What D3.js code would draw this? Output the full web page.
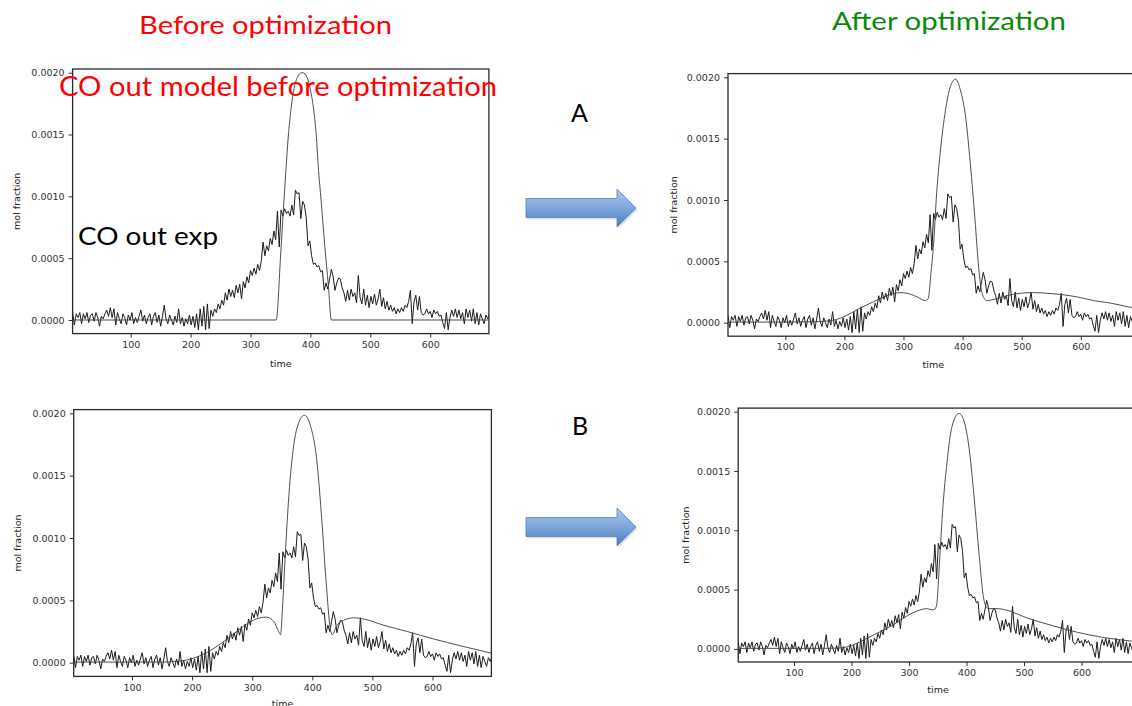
<!DOCTYPE html>
<html>
<head>
<meta charset="utf-8">
<script src="https://cdn.jsdelivr.net/npm/d3@7"></script>
<style>
  html, body { margin: 0; padding: 0; background: #fff; }
  svg { display: block; }
  .tick text { font-family: "DejaVu Sans", sans-serif; font-size: 9.5px; fill: #333; }
  .tick line { stroke: #333; }
</style>
</head>
<body>
<svg id="chart" width="1132" height="706"></svg>
<script>
// ---------- DATA (values in units of 1e-4 mol fraction) ----------
const expTimes = d3.range(3, 700, 3); // sampling times of the experiment
const expValues = [
  0.6, -0.4, 0.5, 0.2, 0.6, -0.3, 0.5, 0.1, 0.6, -0.2,
  0.4, 0.5, -0.1, 0.6, 0.2, -0.5, 0.3, 0.1, 0.5, 0.8,
  0.3, 1.0, 0.2, 0.9, -0.4, 0.6, 0.1, -0.3, 0.5, 0.2,
  -0.4, 0.4, 0.0, 0.6, -0.3, 0.2, -0.2, 0.3, 0.8, -0.1,
  0.4, -0.3, 0.2, 0.5, -0.4, 0.3, 0.6, -0.2, 0.4, -0.5,
  0.3, 1.2, 0.1, -0.3, 0.4, 0.0, -0.4, 0.3, -0.2, 0.9,
  -0.3, 0.2, -0.5, 0.1, -0.3, 0.4, -0.4, 0.3, -0.6, 0.5,
  -0.8, 0.9, -0.5, 1.1, -0.8, 1.3, -0.7, 0.8, 0.3, 0.9,
  0.6, 1.3, 0.9, 1.6, 1.2, 2.2, 1.6, 2.5, 1.9, 2.4,
  1.8, 2.8, 2.2, 2.9, 1.7, 3.1, 2.6, 3.5, 3.0, 4.0,
  3.6, 4.2, 3.7, 4.5, 4.0, 4.8, 6.3, 5.2, 6.0, 5.6,
  6.6, 6.1, 7.2, 6.5, 8.8, 5.9, 8.9, 8.4, 9.0, 8.6,
  8.8, 8.4, 9.3, 8.5, 10.5, 10.2, 10.3, 8.2, 9.6, 9.3,
  8.3, 6.0, 6.4, 5.2, 4.5, 4.6, 4.3, 4.4, 3.9, 4.0,
  2.4, 3.0, 2.5, 3.3, 4.1, 3.5, 2.4, 3.0, 3.4, 3.3,
  2.6, 2.2, 1.5, 2.4, 1.6, 2.5, 1.9, 2.2, 1.4, 3.6,
  1.8, 1.3, 2.5, 1.2, 2.0, 1.0, 1.9, 1.3, 2.1, 1.2,
  1.7, 2.5, 1.1, 1.8, 0.9, 1.5, 0.8, 1.2, 0.7, 1.0,
  0.5, 0.9, 0.6, 1.0, 0.7, 1.2, 1.0, 1.5, 2.4, -0.3,
  1.5, 2.0, 0.8, 1.9, 0.6, 0.4, 0.5, 0.9, 0.5, 0.7,
  0.2, 0.8, 0.5, 0.7, 0.3, 0.4, -0.2, -0.7, 0.6, -0.8,
  0.2, 0.8, 0.3, 0.9, 0.2, 0.8, 0.1, 0.6, -0.3, 0.9,
  0.2, 0.8, -0.1, 0.9, -0.3, 0.6, -0.4, 0.5, 0.1, -0.3,
  0.4, 0.1, 0.5
];

// model curves: [time, value(1e-4)]
const modelBeforeA = [[3,0],[343,0],[350,5],[355,9],[359,12],[363,14.8],[368,17.2],[373,18.8],[378,19.6],[383,19.95],[387,20],[391,19.9],[396,19.4],[401,18.4],[406,16.8],[410,14.8],[413,12.5],[418,9.6],[424,6.0],[430,2.8],[435,0],[698,0]];
const modelAfterA = [[3,0.05],[100,0.05],[150,0.08],[181,0.2],[204,0.6],[227,1.2],[249,1.7],[272,2.2],[294,2.45],[306,2.4],[323,2.1],[337,1.8],[342,2.0],[346,3.8],[351,6.5],[356,10.5],[362,13.8],[371,17.3],[379,19.2],[388,19.85],[396,19.0],[405,16.8],[413,13.0],[421,8.4],[427,4.6],[433,2.4],[441,1.8],[453,1.9],[475,2.2],[498,2.4],[520,2.45],[543,2.4],[566,2.3],[594,2.1],[622,1.8],[650,1.6],[684,1.25],[698,1.1]];
const modelBeforeB = [[3,0.05],[150,0.05],[180,0.13],[202,0.35],[224,0.8],[247,1.5],[269,2.3],[291,3.1],[313,3.6],[324,3.65],[336,3.3],[344,2.5],[347,2.25],[351,4.9],[355,8.6],[361,13.4],[369,17.4],[377,19.2],[387,19.85],[397,19.0],[408,16.0],[416,11.3],[423,6.5],[430,2.7],[433,2.25],[441,3.0],[452,3.4],[469,3.6],[486,3.5],[519,3.0],[558,2.5],[602,1.9],[647,1.35],[699,0.75]];
const modelAfterB = [[3,0.05],[150,0.05],[180,0.08],[203,0.35],[227,0.9],[250,1.45],[273,2.05],[297,2.8],[320,3.3],[331,3.4],[340,3.3],[345,3.35],[348,3.7],[353,7.3],[359,12],[366,15.7],[375,18.8],[387,19.85],[395,19.3],[404,17.1],[413,12.9],[422,7.9],[429,4.5],[435,3.5],[439,3.4],[453,3.4],[471,3.25],[506,2.6],[547,2.0],[593,1.4],[640,0.95],[689,0.65],[698,0.6]];

const xTicks = [100, 200, 300, 400, 500, 600];
const yTicks = [0, 0.0005, 0.0010, 0.0015, 0.0020];
const xDomain = [3, 698];
const yDomain = [-0.00011, 0.00203];
const UNIT = 1e-4;

// ---------- LAYOUT ----------
const panels = [
  { box: [72.6, 69.0, 488.9, 333.6], model: modelBeforeA, ylabX: 16, timeY: 363 },
  { box: [728.0, 73.6, 1138.7, 336.2], model: modelAfterA, ylabX: 673, timeY: 364 },
  { box: [73.7, 409.6, 491.4, 676.4], model: modelBeforeB, ylabX: 17, timeY: 703 },
  { box: [738.2, 408.1, 1137.9, 662.0], model: modelAfterB, ylabX: 685, timeY: 689 }
];

const svg = d3.select("#chart");
const defs = svg.append("defs");

panels.forEach((p, i) => {
  const [x0, y0, x1, y1] = p.box;
  const x = d3.scaleLinear().domain(xDomain).range([x0, x1]);
  const y = d3.scaleLinear().domain(yDomain).range([y1, y0]);

  defs.append("clipPath").attr("id", "clip" + i)
    .append("rect").attr("x", x0).attr("y", y0).attr("width", x1 - x0).attr("height", y1 - y0);

  const g = svg.append("g");

  g.append("g").attr("transform", `translate(0,${y1})`)
    .call(d3.axisBottom(x).tickValues(xTicks).tickSize(4).tickPadding(3.5).tickFormat(d3.format("d")))
    .call(s => s.select(".domain").remove());
  g.append("g").attr("transform", `translate(${x0},0)`)
    .call(d3.axisLeft(y).tickValues(yTicks).tickSize(4).tickPadding(4).tickFormat(d3.format(".4f")))
    .call(s => s.select(".domain").remove());

  const plot = g.append("g").attr("clip-path", `url(#clip${i})`);

  const expLine = d3.line().x((d, k) => x(expTimes[k])).y(d => y(d * UNIT));
  plot.append("path").datum(expValues)
    .attr("d", expLine).attr("fill", "none")
    .attr("stroke", "#1c1c1c").attr("stroke-width", 1.0).attr("stroke-linejoin", "round");

  const modelLine = d3.line().x(d => x(d[0])).y(d => y(d[1] * UNIT)).curve(d3.curveMonotoneX);
  plot.append("path").datum(p.model)
    .attr("d", modelLine).attr("fill", "none")
    .attr("stroke", "#444").attr("stroke-width", 0.95);

  g.append("rect").attr("x", x0).attr("y", y0).attr("width", x1 - x0).attr("height", y1 - y0)
    .attr("fill", "none").attr("stroke", "#2a2a2a").attr("stroke-width", 1.3);

  g.append("text").attr("x", (x0 + x1) / 2).attr("y", p.timeY + 3.5)
    .attr("text-anchor", "middle").attr("font-family", "DejaVu Sans, sans-serif")
    .attr("font-size", 9.5).attr("fill", "#222").text("time");
  g.append("text").attr("transform", `translate(${p.ylabX + 3.5},${(y0 + y1) / 2}) rotate(-90)`)
    .attr("text-anchor", "middle").attr("font-family", "DejaVu Sans, sans-serif")
    .attr("font-size", 9.5).attr("fill", "#222").text("mol fraction");
});

// ---------- arrows ----------
const grad = defs.append("linearGradient").attr("id", "arrowGrad")
  .attr("x1", 0).attr("y1", 0).attr("x2", 0).attr("y2", 1);
grad.append("stop").attr("offset", "0%").attr("stop-color", "#a9c6ee");
grad.append("stop").attr("offset", "50%").attr("stop-color", "#7ea6dc");
grad.append("stop").attr("offset", "100%").attr("stop-color", "#4a7cc0");

const arrowSpecs = [{ cy: 208 }, { cy: 527 }];
arrowSpecs.forEach(a => {
  const xs = 526, xh = 617, xe = 636, sh = 9.5, hh = 19;
  const path = `M${xs},${a.cy - sh} L${xh},${a.cy - sh} L${xh},${a.cy - hh} L${xe},${a.cy} L${xh},${a.cy + hh} L${xh},${a.cy + sh} L${xs},${a.cy + sh} Z`;
  svg.append("path").attr("d", path).attr("transform", "translate(1.5,2)")
    .attr("fill", "#000").attr("opacity", 0.12);
  svg.append("path").attr("d", path).attr("fill", "url(#arrowGrad)")
    .attr("stroke", "#4f81bd").attr("stroke-width", 0.8);
});

// ---------- slide text ----------
const txt = (s, xPos, yPos, size, color, len) => {
  const t = svg.append("text").attr("x", xPos).attr("y", yPos)
    .attr("font-family", "Lato, 'Open Sans', sans-serif").attr("font-size", size)
    .attr("fill", color).text(s);
  if (len) t.attr("textLength", len).attr("lengthAdjust", "spacingAndGlyphs");
  return t;
};
txt("Before optimization", 139, 34, 25, "#ff0000", 253);
txt("After optimization", 832, 30, 25, "#0a8a0a", 234);
txt("CO out model before optimization", 59, 96, 26, "#ff0000", 438);
txt("CO out exp", 78, 245, 25.5, "#000", 140);
txt("A", 571, 122, 25, "#000");
txt("B", 572, 435, 25, "#000");
</script>
</body>
</html>
